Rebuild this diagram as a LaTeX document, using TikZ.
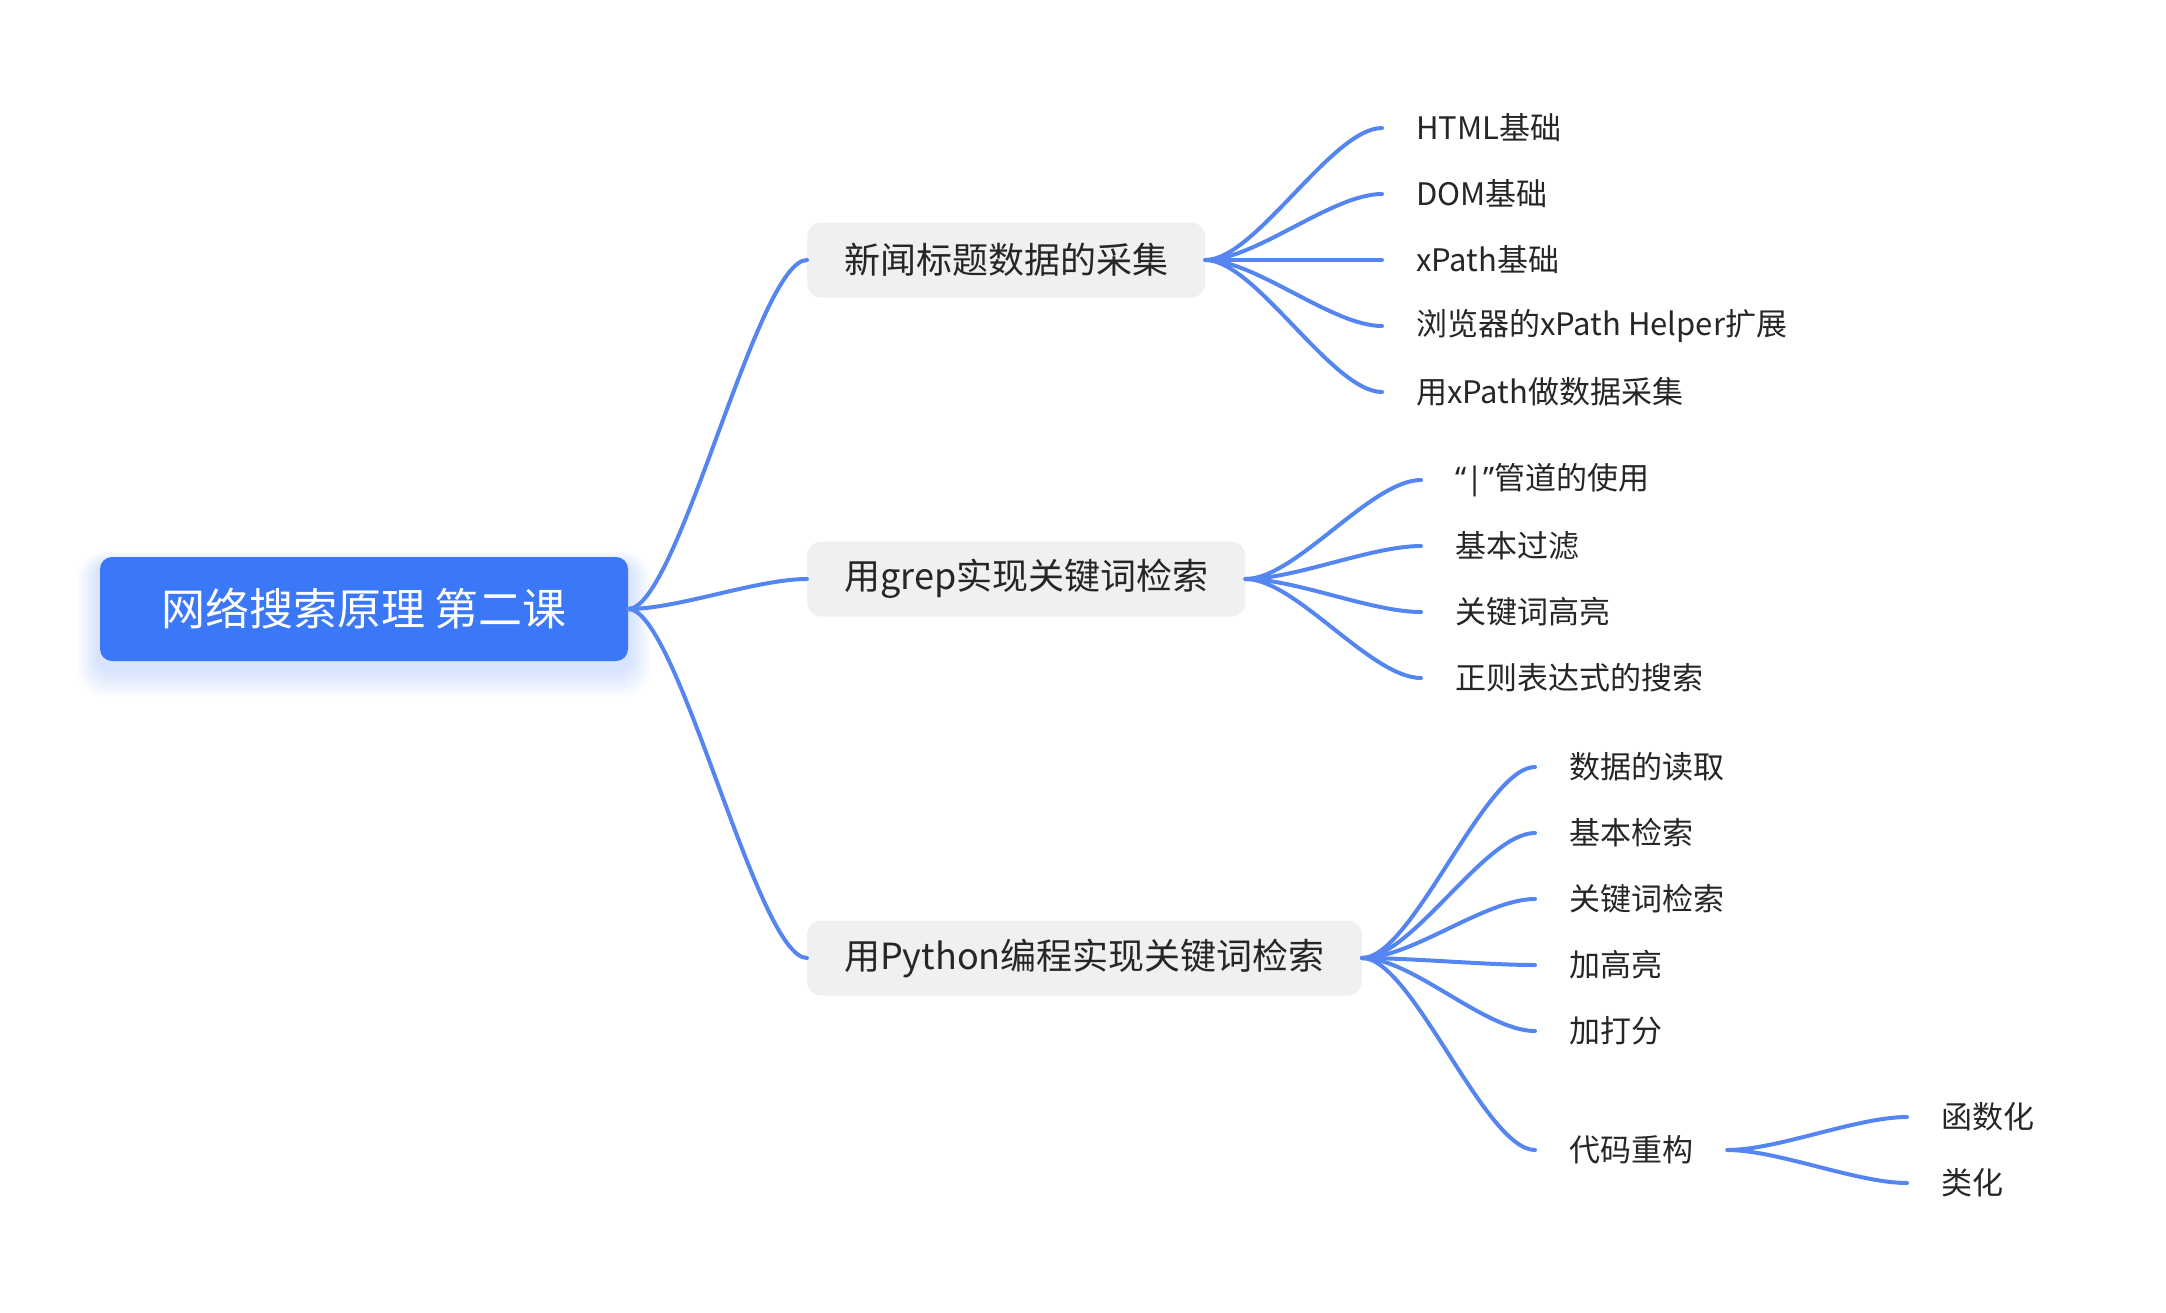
\documentclass[tikz,border=0pt]{standalone}
\usepackage{fontspec}
\setmainfont{Noto Sans CJK SC}
\newfontfamily\latinq{Noto Sans}
\definecolor{rootblue}{HTML}{3A78F7}
\definecolor{linkblue}{HTML}{5585F0}
\definecolor{boxgray}{HTML}{EFF0F2}
\definecolor{txt}{HTML}{262626}
\begin{document}
\begin{tikzpicture}[x=1pt,y=-1pt,
  link/.style={draw=linkblue, line width=4pt, line cap=round},
  rootnode/.style={fill=rootblue, rounded corners=12pt, text=white, minimum width=528pt, minimum height=104pt, inner sep=0pt, font=\fontsize{44}{52}\selectfont},
  topic/.style={fill=boxgray, rounded corners=14pt, text=txt, minimum height=75pt, inner xsep=37pt, inner ysep=0pt, anchor=west, font=\fontsize{36}{42}\selectfont},
  leaf/.style={text=txt, inner xsep=34pt, inner ysep=0pt, anchor=west, font=\fontsize{31}{36}\selectfont},
  curve/.style={to path={.. controls +(50,0) and +(-50,0) .. (\tikztotarget)}}
]
\useasboundingbox (0,0) rectangle (2166,1312);
% soft glow of the root
\foreach \i in {1,...,18}
  \fill[rootblue, opacity=0.012, rounded corners={12pt+\i*1pt}]
    ({100-\i*1.3},{557-\i*0.8+8}) rectangle ({628+\i*1.3},{661+\i*1.6+8});
\node[rootnode] (root) at (364,609) {网络搜索原理 第二课};

\node[topic] (t1) at (807,260) {新闻标题数据的采集};
\node[topic] (t2) at (807,579) {用grep实现关键词检索};
\node[topic] (t3) at (807,958) {用Python编程实现关键词检索};

\node[leaf] (a1) at (1382,128) {HTML基础};
\node[leaf] (a2) at (1382,194) {DOM基础};
\node[leaf] (a3) at (1382,260) {xPath基础};
\node[leaf] (a4) at (1382,326) {浏览器的xPath Helper扩展};
\node[leaf] (a5) at (1382,392) {用xPath做数据采集};

\node[leaf] (b1) at (1421,480) {{\latinq “|”}管道的使用};
\node[leaf] (b2) at (1421,546) {基本过滤};
\node[leaf] (b3) at (1421,612) {关键词高亮};
\node[leaf] (b4) at (1421,678) {正则表达式的搜索};

\node[leaf] (c1) at (1535,767) {数据的读取};
\node[leaf] (c2) at (1535,833) {基本检索};
\node[leaf] (c3) at (1535,899) {关键词检索};
\node[leaf] (c4) at (1535,965) {加高亮};
\node[leaf] (c5) at (1535,1031) {加打分};
\node[leaf] (c6) at (1535,1150) {代码重构};

\node[leaf] (d1) at (1907,1117) {函数化};
\node[leaf] (d2) at (1907,1183) {类化};

\foreach \t in {t1,t2,t3}
  \draw[link] (root.east) to[curve] (\t.west);
\foreach \l in {a1,a2,a3,a4,a5}
  \draw[link] (t1.east) to[curve] (\l.west);
\foreach \l in {b1,b2,b3,b4}
  \draw[link] (t2.east) to[curve] (\l.west);
\foreach \l in {c1,c2,c3,c4,c5,c6}
  \draw[link] (t3.east) to[curve] (\l.west);
\foreach \l in {d1,d2}
  \draw[link] (c6.east) to[curve] (\l.west);
\end{tikzpicture}
\end{document}
